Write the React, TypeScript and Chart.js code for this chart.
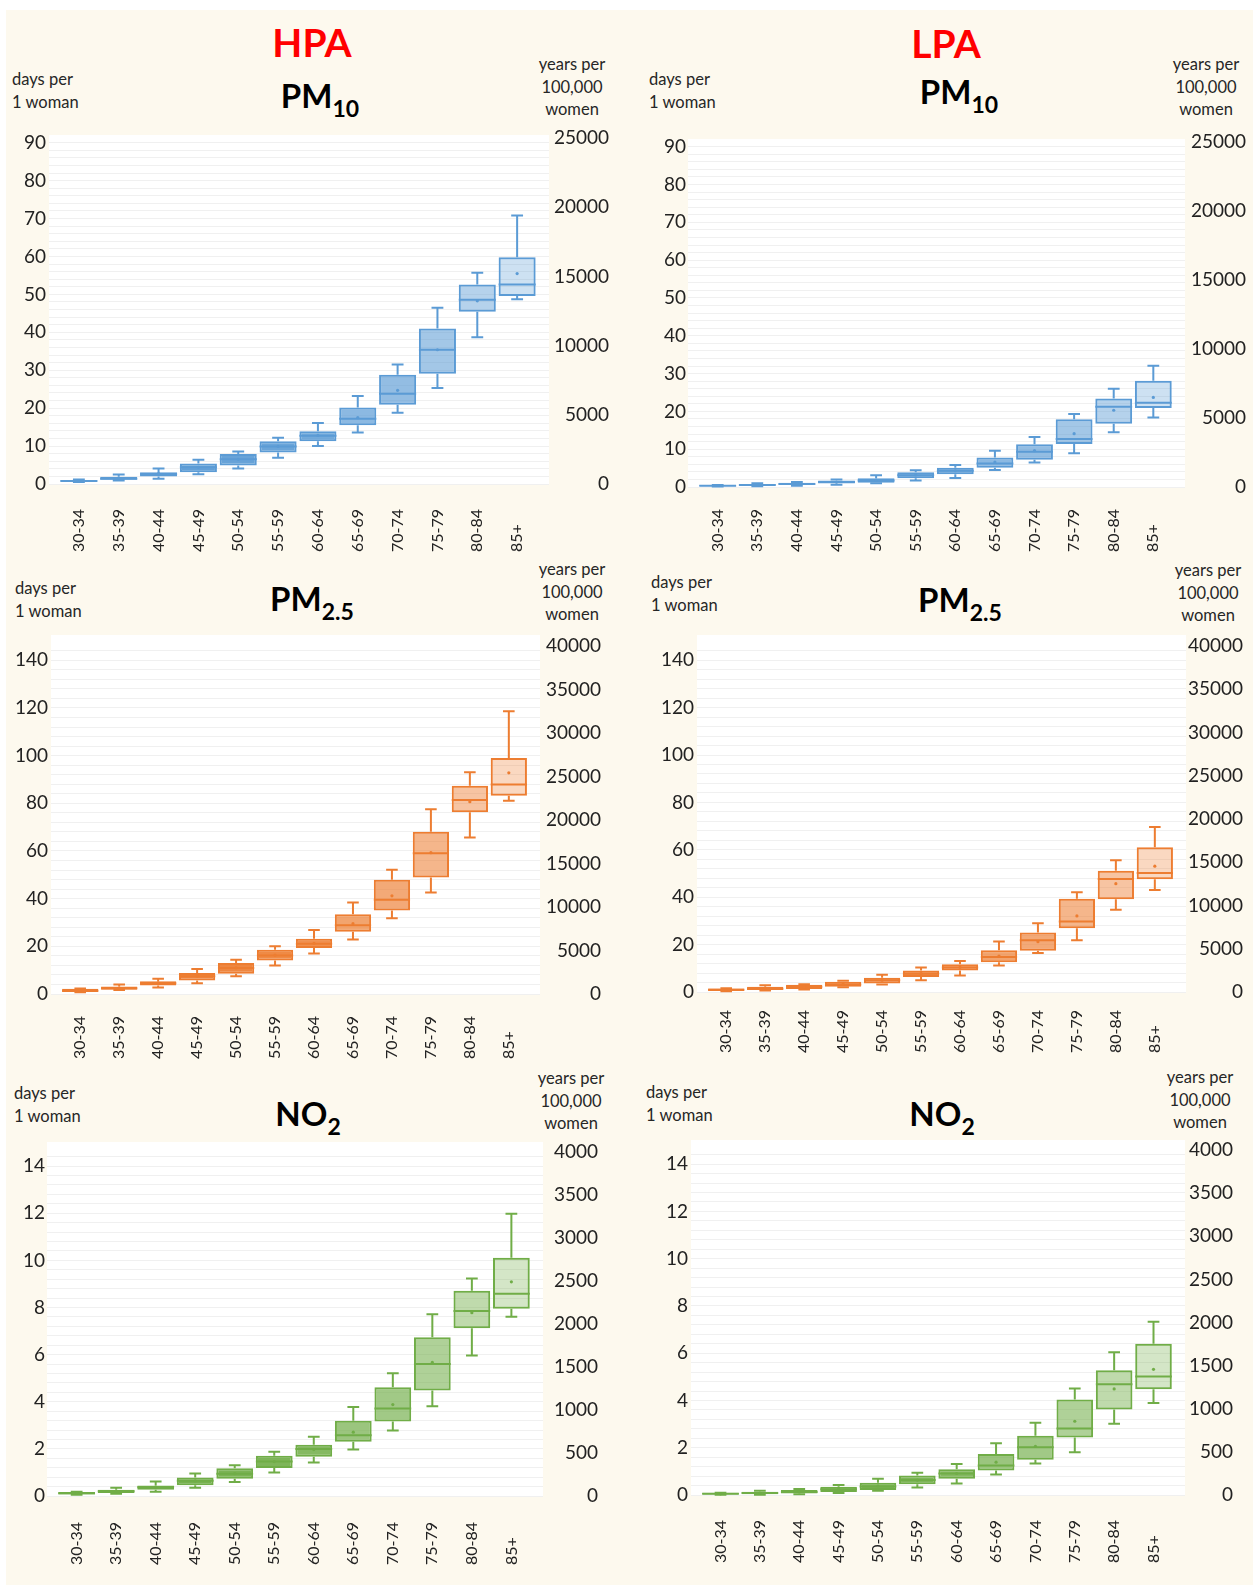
import React, { useEffect, useRef } from 'react';
import { Chart, registerables } from 'chart.js';

Chart.register(...registerables);

const FONT = 'Lato, "Open Sans", "DejaVu Sans", sans-serif';
const TEXT = '#222222';

const AGE_GROUPS = ['30-34', '35-39', '40-44', '45-49', '50-54', '55-59', '60-64', '65-69', '70-74', '75-79', '80-84', '85+'];

// conversion between "days per 1 woman" (left) and "years per 100,000 women" (right)
const DAYS_PER_YEAR = 365;
const WOMEN_BASE = 100000;

// ---- HPA PM10 (days per 1 woman) ----
const HPA_PM10_MIN = [0.5, 0.9, 1.4, 2.6, 4.1, 6.9, 10.0, 13.6, 18.8, 25.3, 38.7, 48.7];
const HPA_PM10_Q1 = [0.65, 1.1, 2.0, 3.1, 4.9, 8.3, 11.3, 15.5, 20.9, 29.1, 45.4, 49.6];
const HPA_PM10_MEDIAN = [0.8, 1.4, 2.6, 4.4, 6.5, 9.9, 12.7, 17.2, 23.8, 35.4, 48.6, 52.6];
const HPA_PM10_Q3 = [1.0, 1.9, 3.1, 5.4, 7.9, 11.3, 13.9, 20.2, 28.8, 41.0, 52.6, 59.8];
const HPA_PM10_MAX = [1.2, 2.5, 4.1, 6.4, 8.6, 12.2, 16.1, 23.2, 31.5, 46.5, 55.7, 70.8];
const HPA_PM10_MEAN = [0.85, 1.5, 2.8, 4.4, 6.5, 9.9, 12.8, 17.5, 24.7, 35.4, 48.3, 55.5];

// ---- LPA PM10 ----
const LPA_PM10_MIN = [0.15, 0.2, 0.35, 0.6, 1.0, 1.7, 2.4, 4.5, 6.5, 8.9, 14.5, 18.4];
const LPA_PM10_Q1 = [0.2, 0.35, 0.5, 0.9, 1.1, 2.3, 3.4, 5.1, 7.2, 11.4, 16.7, 20.9];
const LPA_PM10_MEDIAN = [0.35, 0.55, 0.8, 1.3, 1.7, 3.1, 4.3, 6.2, 9.3, 12.7, 21.2, 22.3];
const LPA_PM10_Q3 = [0.5, 0.8, 1.1, 1.7, 2.3, 3.9, 5.1, 7.8, 11.3, 17.9, 23.4, 28.1];
const LPA_PM10_MAX = [0.55, 1.0, 1.3, 2.0, 3.1, 4.4, 5.8, 9.6, 13.2, 19.3, 26.0, 32.1];
const LPA_PM10_MEAN = [0.4, 0.6, 0.85, 1.3, 1.8, 3.2, 4.3, 6.6, 9.6, 14.1, 20.3, 23.7];

// ---- HPA PM2.5 ----
const HPA_PM25_MIN = [0.7, 1.7, 2.7, 4.5, 7.4, 12.0, 17.0, 22.9, 31.8, 42.6, 65.7, 81.1];
const HPA_PM25_Q1 = [0.8, 1.8, 3.6, 5.7, 8.5, 14.1, 19.3, 26.1, 35.0, 48.9, 76.2, 83.2];
const HPA_PM25_MEDIAN = [1.4, 2.4, 4.5, 7.4, 10.9, 16.2, 21.1, 28.8, 39.5, 59.0, 81.4, 87.9];
const HPA_PM25_Q3 = [2.2, 3.1, 5.3, 8.8, 13.0, 18.6, 23.2, 33.5, 47.9, 68.1, 87.4, 99.0];
const HPA_PM25_MAX = [2.3, 4.0, 6.4, 10.5, 14.4, 20.0, 26.8, 38.4, 52.1, 77.5, 93.0, 118.6];
const HPA_PM25_MEAN = [1.5, 2.5, 4.7, 7.5, 11.0, 16.3, 21.2, 29.5, 41.2, 59.3, 80.7, 92.8];

// ---- LPA PM2.5 ----
const LPA_PM25_MIN = [0.3, 0.6, 1.1, 2.0, 3.2, 5.0, 7.0, 11.2, 16.5, 21.8, 34.7, 43.0];
const LPA_PM25_Q1 = [0.4, 0.8, 1.3, 2.2, 3.6, 6.3, 9.1, 12.6, 17.4, 26.9, 39.1, 47.6];
const LPA_PM25_MEDIAN = [0.9, 1.4, 2.2, 3.2, 5.0, 7.8, 10.3, 14.8, 21.8, 29.7, 47.7, 50.2];
const LPA_PM25_Q3 = [1.5, 2.2, 3.1, 4.3, 6.0, 9.1, 11.7, 17.6, 25.1, 39.3, 51.2, 61.1];
const LPA_PM25_MAX = [1.6, 2.8, 3.3, 4.7, 7.3, 10.3, 13.1, 21.3, 29.0, 42.1, 55.6, 69.6];
const LPA_PM25_MEAN = [0.9, 1.5, 2.2, 3.3, 5.0, 7.8, 10.4, 15.2, 21.2, 32.1, 45.7, 53.1];

// ---- HPA NO2 ----
const HPA_NO2_MIN = [0.05, 0.1, 0.18, 0.35, 0.59, 1.0, 1.42, 1.97, 2.78, 3.81, 5.96, 7.61];
const HPA_NO2_Q1 = [0.06, 0.13, 0.27, 0.46, 0.73, 1.19, 1.67, 2.30, 3.16, 4.48, 7.12, 7.95];
const HPA_NO2_MEDIAN = [0.12, 0.2, 0.37, 0.65, 0.94, 1.46, 1.99, 2.58, 3.71, 5.60, 7.85, 8.58];
const HPA_NO2_Q3 = [0.17, 0.27, 0.45, 0.79, 1.18, 1.71, 2.18, 3.19, 4.62, 6.74, 8.71, 10.11];
const HPA_NO2_MAX = [0.18, 0.35, 0.62, 0.95, 1.31, 1.88, 2.51, 3.78, 5.21, 7.71, 9.23, 11.98];
const HPA_NO2_MEAN = [0.12, 0.2, 0.38, 0.64, 0.95, 1.46, 1.97, 2.71, 3.88, 5.67, 7.78, 9.09];

// ---- LPA NO2 ----
const LPA_NO2_MIN = [0.01, 0.01, 0.03, 0.08, 0.18, 0.32, 0.49, 0.87, 1.33, 1.81, 3.02, 3.89];
const LPA_NO2_Q1 = [0.02, 0.03, 0.06, 0.13, 0.21, 0.45, 0.69, 1.04, 1.49, 2.43, 3.62, 4.48];
const LPA_NO2_MEDIAN = [0.05, 0.08, 0.13, 0.24, 0.36, 0.63, 0.91, 1.25, 2.02, 2.81, 4.69, 5.01];
const LPA_NO2_Q3 = [0.09, 0.14, 0.21, 0.35, 0.52, 0.83, 1.09, 1.74, 2.51, 4.04, 5.28, 6.40];
const LPA_NO2_MAX = [0.1, 0.18, 0.25, 0.42, 0.69, 0.94, 1.31, 2.19, 3.06, 4.51, 6.04, 7.33];
const LPA_NO2_MEAN = [0.05, 0.08, 0.13, 0.25, 0.38, 0.63, 0.91, 1.39, 2.06, 3.12, 4.49, 5.32];

// ---- axis tick settings ----
const PM10_RIGHT_MAX = 25000;
const PM10_RIGHT_STEP = 5000;
const PM10_LEFT_STEP = 10;
const PM10_LEFT_MINOR = 2;
const PM25_RIGHT_MAX = 40000;
const PM25_RIGHT_STEP = 5000;
const PM25_LEFT_STEP = 20;
const PM25_LEFT_MINOR = 4;
const NO2_RIGHT_MAX = 4000;
const NO2_RIGHT_STEP = 500;
const NO2_LEFT_STEP = 2;
const NO2_LEFT_MINOR = 0.4;

// ---- styles ----
const BLUE = [91, 155, 213];
const ORANGE = [237, 125, 49];
const GREEN = [112, 173, 71];
const FILL_ALPHA = [1, 1, 1, 0.95, 0.92, 0.9, 0.85, 0.7, 0.66, 0.56, 0.45, 0.3];

const LEFT_W = 50;
const PAD_TOP = 22;
const PAD_RIGHT = 4;
const X_H = 72;

const PANELS = [
  {
    title: 'PM', sub: '10', rgb: BLUE,
    min: HPA_PM10_MIN, q1: HPA_PM10_Q1, med: HPA_PM10_MEDIAN, q3: HPA_PM10_Q3, max: HPA_PM10_MAX, mean: HPA_PM10_MEAN,
    rightMax: PM10_RIGHT_MAX, rightStep: PM10_RIGHT_STEP, leftMajor: PM10_LEFT_STEP, leftMinor: PM10_LEFT_MINOR,
    L: { plotL: 49, plotR: 549, plotT: 138, plotB: 484, llr: 46, rlr: 609, bgExt: 3, labelOffset: 68, titleX: 320, titleY: 95, daysX: 12, daysY: 79, yearsX: 572, yearsY: 64 },
  },
  {
    title: 'PM', sub: '10', rgb: BLUE,
    min: LPA_PM10_MIN, q1: LPA_PM10_Q1, med: LPA_PM10_MEDIAN, q3: LPA_PM10_Q3, max: LPA_PM10_MAX, mean: LPA_PM10_MEAN,
    rightMax: PM10_RIGHT_MAX, rightStep: PM10_RIGHT_STEP, leftMajor: PM10_LEFT_STEP, leftMinor: PM10_LEFT_MINOR,
    L: { plotL: 688, plotR: 1185, plotT: 142, plotB: 487, llr: 686, rlr: 1246, bgExt: 3, labelOffset: 65, titleX: 959, titleY: 91, daysX: 649, daysY: 79, yearsX: 1206, yearsY: 64 },
  },
  {
    title: 'PM', sub: '2.5', rgb: ORANGE,
    min: HPA_PM25_MIN, q1: HPA_PM25_Q1, med: HPA_PM25_MEDIAN, q3: HPA_PM25_Q3, max: HPA_PM25_MAX, mean: HPA_PM25_MEAN,
    rightMax: PM25_RIGHT_MAX, rightStep: PM25_RIGHT_STEP, leftMajor: PM25_LEFT_STEP, leftMinor: PM25_LEFT_MINOR,
    L: { plotL: 51, plotR: 540, plotT: 646, plotB: 994, llr: 48, rlr: 601, bgExt: 11, labelOffset: 65, titleX: 312, titleY: 598, daysX: 15, daysY: 588, yearsX: 572, yearsY: 569 },
  },
  {
    title: 'PM', sub: '2.5', rgb: ORANGE,
    min: LPA_PM25_MIN, q1: LPA_PM25_Q1, med: LPA_PM25_MEDIAN, q3: LPA_PM25_Q3, max: LPA_PM25_MAX, mean: LPA_PM25_MEAN,
    rightMax: PM25_RIGHT_MAX, rightStep: PM25_RIGHT_STEP, leftMajor: PM25_LEFT_STEP, leftMinor: PM25_LEFT_MINOR,
    L: { plotL: 697, plotR: 1186, plotT: 646, plotB: 992, llr: 694, rlr: 1243, bgExt: 11, labelOffset: 61, titleX: 960, titleY: 599, daysX: 651, daysY: 582, yearsX: 1208, yearsY: 570 },
  },
  {
    title: 'NO', sub: '2', rgb: GREEN,
    min: HPA_NO2_MIN, q1: HPA_NO2_Q1, med: HPA_NO2_MEDIAN, q3: HPA_NO2_Q3, max: HPA_NO2_MAX, mean: HPA_NO2_MEAN,
    rightMax: NO2_RIGHT_MAX, rightStep: NO2_RIGHT_STEP, leftMajor: NO2_LEFT_STEP, leftMinor: NO2_LEFT_MINOR,
    L: { plotL: 47, plotR: 543, plotT: 1152, plotB: 1496, llr: 45, rlr: 598, bgExt: 10, labelOffset: 69, titleX: 308, titleY: 1113, daysX: 14, daysY: 1093, yearsX: 571, yearsY: 1078 },
  },
  {
    title: 'NO', sub: '2', rgb: GREEN,
    min: LPA_NO2_MIN, q1: LPA_NO2_Q1, med: LPA_NO2_MEDIAN, q3: LPA_NO2_Q3, max: LPA_NO2_MAX, mean: LPA_NO2_MEAN,
    rightMax: NO2_RIGHT_MAX, rightStep: NO2_RIGHT_STEP, leftMajor: NO2_LEFT_STEP, leftMinor: NO2_LEFT_MINOR,
    L: { plotL: 691, plotR: 1185, plotT: 1150, plotB: 1495, llr: 688, rlr: 1233, bgExt: 10, labelOffset: 68, titleX: 942, titleY: 1113, daysX: 646, daysY: 1092, yearsX: 1200, yearsY: 1077 },
  },
];

const GROUPS = [
  { text: 'HPA', x: 312, y: 42 },
  { text: 'LPA', x: 946, y: 43 },
];

function BoxPanel({ p }: { p: any }) {
  const ref = useRef<HTMLCanvasElement>(null);
  const L = p.L;
  const cl = L.plotL - LEFT_W;
  const ct = L.plotT - PAD_TOP;
  const cw = L.rlr + PAD_RIGHT - cl;
  const ch = L.plotB - ct + X_H;

  useEffect(() => {
    const canvas = ref.current;
    if (!canvas) return;
    const [r, g, b] = p.rgb;
    const line = `rgb(${r},${g},${b})`;
    const fills = FILL_ALPHA.map((a) => `rgba(${r},${g},${b},${a})`);
    const leftMax = (p.rightMax * DAYS_PER_YEAR) / WOMEN_BASE;

    const bgPlugin = {
      id: 'plotBg',
      beforeDraw(chart: any) {
        const { ctx, chartArea: a } = chart;
        ctx.save();
        ctx.fillStyle = '#ffffff';
        ctx.fillRect(a.left, a.top - L.bgExt, a.right - a.left, a.bottom - a.top + L.bgExt + 1);
        ctx.restore();
      },
    };

    const boxPlugin = {
      id: 'boxParts',
      afterDatasetsDraw(chart: any) {
        const { ctx } = chart;
        const ys = chart.scales.y;
        const meta = chart.getDatasetMeta(0);
        ctx.save();
        ctx.strokeStyle = line;
        ctx.fillStyle = line;
        ctx.lineWidth = 2;
        meta.data.forEach((el: any, i: number) => {
          const x = el.x;
          const w = el.width;
          const cap = w * 0.32;
          const yMin = ys.getPixelForValue(p.min[i]);
          const yQ1 = ys.getPixelForValue(p.q1[i]);
          const yMed = ys.getPixelForValue(p.med[i]);
          const yQ3 = ys.getPixelForValue(p.q3[i]);
          const yMax = ys.getPixelForValue(p.max[i]);
          const yMean = ys.getPixelForValue(p.mean[i]);
          ctx.beginPath();
          ctx.moveTo(x, yQ3);
          ctx.lineTo(x, yMax);
          ctx.moveTo(x - cap / 2, yMax);
          ctx.lineTo(x + cap / 2, yMax);
          ctx.moveTo(x, yQ1);
          ctx.lineTo(x, yMin);
          ctx.moveTo(x - cap / 2, yMin);
          ctx.lineTo(x + cap / 2, yMin);
          ctx.moveTo(x - w / 2, yMed);
          ctx.lineTo(x + w / 2, yMed);
          ctx.stroke();
          ctx.beginPath();
          ctx.arc(x, yMean, 1.6, 0, Math.PI * 2);
          ctx.fill();
        });
        ctx.restore();
      },
    };

    const labelPlugin = {
      id: 'catLabels',
      afterDraw(chart: any) {
        const { ctx, chartArea } = chart;
        const xs = chart.scales.x;
        ctx.save();
        ctx.font = `16px ${FONT}`;
        ctx.fillStyle = TEXT;
        ctx.textAlign = 'left';
        ctx.textBaseline = 'middle';
        AGE_GROUPS.forEach((lab, i) => {
          const x = xs.getPixelForValue(i);
          ctx.save();
          ctx.translate(x, chartArea.bottom + L.labelOffset);
          ctx.rotate(-Math.PI / 2);
          ctx.fillText(lab, 0, 0);
          ctx.restore();
        });
        ctx.restore();
      },
    };

    const isMajor = (v: number, step: number) => {
      const q = v / step;
      return Math.abs(q - Math.round(q)) < 1e-6;
    };

    const chart = new Chart(canvas, {
      type: 'bar',
      data: {
        datasets: [
          {
            data: AGE_GROUPS.map((_, i) => ({ x: i, y: [p.q1[i], p.q3[i]] })),
            backgroundColor: fills,
            borderColor: line,
            borderWidth: 2,
            borderSkipped: false,
            barPercentage: 0.93,
            categoryPercentage: 1,
            xAxisID: 'x',
            yAxisID: 'y',
          },
        ],
      },
      options: {
        responsive: false,
        animation: false,
        events: [],
        layout: { padding: { top: PAD_TOP, right: PAD_RIGHT, left: 0, bottom: 0 } },
        plugins: { legend: { display: false }, tooltip: { enabled: false }, title: { display: false } },
        scales: {
          x: {
            type: 'linear',
            position: 'bottom',
            min: -0.75,
            max: 11.8,
            offset: false,
            grid: { display: false, drawTicks: false },
            border: { display: false },
            ticks: { display: false, stepSize: 1, includeBounds: false },
            afterFit: (s: any) => { s.height = X_H; },
          },
          y: {
            position: 'left',
            min: 0,
            max: leftMax,
            grid: { color: '#f0f0f0', lineWidth: 1, drawTicks: false },
            border: { display: false },
            ticks: {
              stepSize: p.leftMinor,
              autoSkip: false,
              includeBounds: false,
              padding: L.plotL - L.llr,
              color: TEXT,
              font: { family: FONT, size: 19 },
              callback: (v: any) => (isMajor(Number(v), p.leftMajor) ? String(Math.round(Number(v) * 100) / 100) : ''),
            },
            afterFit: (s: any) => { s.width = LEFT_W; },
          },
          y2: {
            position: 'right',
            min: 0,
            max: p.rightMax,
            grid: { display: false, drawTicks: false },
            border: { display: false },
            ticks: {
              stepSize: p.rightStep,
              includeBounds: false,
              crossAlign: 'far',
              padding: 0,
              color: TEXT,
              font: { family: FONT, size: 19 },
              callback: (v: any) => String(v),
            },
            afterFit: (s: any) => { s.width = L.rlr - L.plotR; },
          },
        },
      },
      plugins: [bgPlugin, boxPlugin, labelPlugin],
    } as any);
    return () => chart.destroy();
  }, []);

  return (
    <canvas
      ref={ref}
      width={cw}
      height={ch}
      style={{ position: 'absolute', left: cl, top: ct, width: cw, height: ch }}
    />
  );
}

function PanelTexts({ p }: { p: any }) {
  const L = p.L;
  return (
    <>
      <div
        style={{
          position: 'absolute', left: L.titleX, top: L.titleY, transform: 'translate(-50%, -50%)',
          fontFamily: FONT, fontWeight: 700, fontSize: 33, lineHeight: 1, color: '#000', whiteSpace: 'nowrap',
        }}
      >
        {p.title}
        <span style={{ fontSize: 23, position: 'relative', top: 9 }}>{p.sub}</span>
      </div>
      <div
        style={{
          position: 'absolute', left: L.daysX, top: L.daysY - 11, fontFamily: FONT, fontSize: 16.5,
          lineHeight: '22.5px', color: '#262626', whiteSpace: 'nowrap',
        }}
      >
        days per<br />1 woman
      </div>
      <div
        style={{
          position: 'absolute', left: L.yearsX, top: L.yearsY - 11, transform: 'translateX(-50%)',
          fontFamily: FONT, fontSize: 16.5, lineHeight: '22.5px', color: '#262626', whiteSpace: 'nowrap', textAlign: 'center',
        }}
      >
        years per<br />100,000<br />women
      </div>
    </>
  );
}

export default function App() {
  return (
    <div style={{ position: 'absolute', left: 0, top: 0, width: 1253, height: 1585, background: '#ffffff', overflow: 'hidden' }}>
      <div style={{ position: 'absolute', left: 6, top: 10, width: 1247, height: 1575, background: '#FDF9EE' }} />
      {GROUPS.map((g) => (
        <div
          key={g.text}
          style={{
            position: 'absolute', left: g.x, top: g.y, transform: 'translate(-50%, -50%)',
            fontFamily: FONT, fontWeight: 700, fontSize: 39, lineHeight: 1, color: '#FF0000',
          }}
        >
          {g.text}
        </div>
      ))}
      {PANELS.map((p, i) => (
        <React.Fragment key={i}>
          <PanelTexts p={p} />
          <BoxPanel p={p} />
        </React.Fragment>
      ))}
    </div>
  );
}
